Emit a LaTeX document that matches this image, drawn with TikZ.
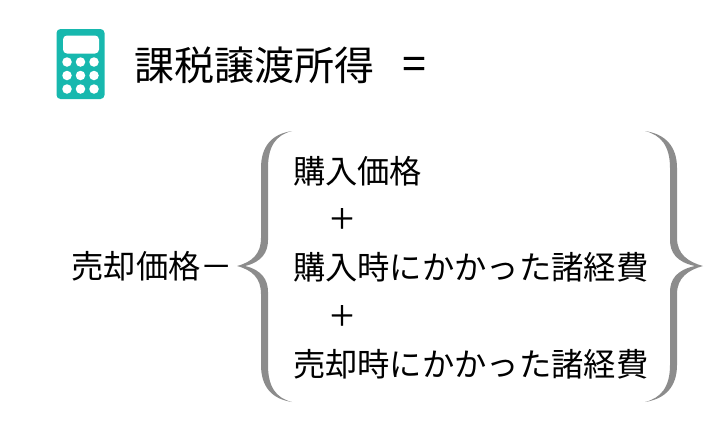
\documentclass[tikz,border=0pt]{standalone}
\usepackage{fontspec}
\setmainfont{Noto Sans CJK JP}
\newfontfamily\heavyfont[FakeBold=0.4]{Noto Sans CJK JP}
\definecolor{teal1}{HTML}{17B8AE}
\definecolor{brace}{HTML}{8C8C8C}
\tikzset{
 body/.style={inner sep=0pt,outer sep=0pt,anchor=west,font=\fontsize{32.3}{32}\selectfont},
 plus/.style={inner sep=0pt,outer sep=0pt,anchor=center,font=\heavyfont\fontsize{28}{28}\selectfont},
 title/.style={inner sep=0pt,outer sep=0pt,anchor=west,font=\fontsize{40}{40}\selectfont},
 eq/.style={inner sep=0pt,outer sep=0pt,anchor=center,font=\heavyfont\fontsize{42}{42}\selectfont},
 key/.style={circle,fill=white,minimum size=9.5pt,inner sep=0pt,outer sep=0pt},
}
\begin{document}
\begin{tikzpicture}[x=1pt,y=-1pt]
\useasboundingbox (0,0) rectangle (720,439);
% calculator
\node[fill=teal1,rounded corners=4pt,minimum width=48pt,minimum height=70pt,inner sep=0pt,outer sep=0pt] (calc) at (80.5,64) {};
\node[fill=white,rounded corners=4pt,minimum width=36pt,minimum height=18pt,inner sep=0pt,outer sep=0pt] (screen) at (81,44.5) {};
\foreach \r/\yy in {a/62,b/75.5,c/89}{
 \foreach \c/\xx in {a/67,b/80.5,c/94}{
  \node[key] (k\r\c) at (\xx,\yy) {};
 }
}
% texts
\node[title] (t1) at (134.5,65) {課税譲渡所得};
\node[eq] (t2) at (414,68) {=};
\node[body] (l0) at (71.5,266) {売却価格－};
\node[body] (l1) at (293,171) {購入価格};
\node[plus] (p1) at (342,218.5) {＋};
\node[plus] (p2) at (342,315.5) {＋};
\node[body] (l2) at (293,267) {購入時にかかった諸経費};
\node[body] (l3) at (293,364) {売却時にかかった諸経費};
% left brace
\fill[brace] (292,131) .. controls (272,134) and (261,146) .. (261,168)
 -- (261,238) .. controls (261,254) and (252,262) .. (237,266)
 .. controls (252,270) and (261,278) .. (261,294)
 -- (261,365) .. controls (261,387) and (272,399) .. (292,402)
 .. controls (276,398) and (268,387) .. (268,365)
 -- (268,292) .. controls (268,280) and (262,270) .. (245,266)
 .. controls (262,262) and (268,252) .. (268,240)
 -- (268,168) .. controls (268,146) and (276,135) .. (292,131) -- cycle;
% right brace
\fill[brace] (645,131) .. controls (665,134) and (677,146) .. (677,168)
 -- (677,238) .. controls (677,254) and (688,262) .. (703,266)
 .. controls (688,270) and (677,278) .. (677,294)
 -- (677,365) .. controls (677,387) and (665,399) .. (645,402)
 .. controls (661,398) and (670,387) .. (670,365)
 -- (670,292) .. controls (670,280) and (676,270) .. (695,266)
 .. controls (676,262) and (670,252) .. (670,240)
 -- (670,168) .. controls (670,146) and (661,135) .. (645,131) -- cycle;
\end{tikzpicture}
\end{document}
